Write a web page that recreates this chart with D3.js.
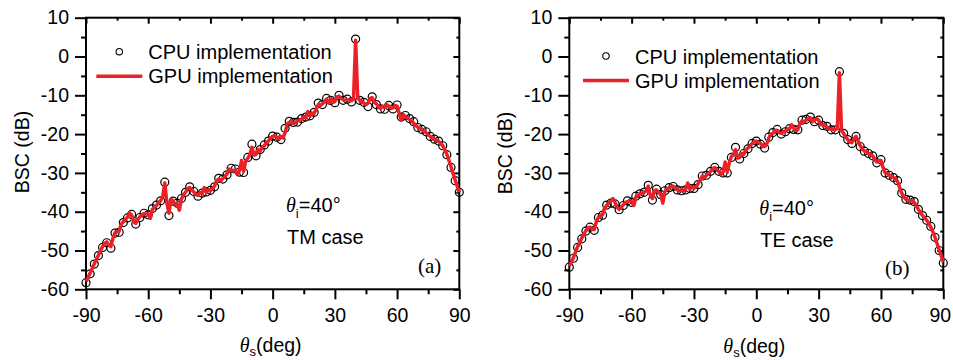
<!DOCTYPE html>
<html>
<head>
<meta charset="utf-8">
<script src="https://cdn.jsdelivr.net/npm/d3@7"></script>
<style>
  body { margin: 0; background: #fff; }
  svg { display: block; font-family: 'Liberation Sans', Arial, sans-serif; }
</style>
</head>
<body>
<div id="chart"></div>
<script>
// scattering angle grids (deg)
const cpuAngles = d3.range(-90, 91, 2);
const gpuAngles = d3.range(-90, 91, 1);

const xTicks = [-90, -60, -30, 0, 30, 60, 90];
const xMinorTicks = [-75, -45, -15, 15, 45, 75];
const yTicks = [10, 0, -10, -20, -30, -40, -50, -60];
const yMinorTicks = [5, -5, -15, -25, -35, -45, -55];

// (a) TM case, BSC in dB
const tmCpu = [
  -58.3, -56.0, -53.5, -51.3, -49.2, -48.0, -49.4, -45.5, -45.3, -42.8,
  -41.6, -40.7, -43.2, -41.5, -40.4, -40.8, -39.2, -38.3, -37.2, -32.4,
  -41.0, -37.3, -37.8, -36.6, -35.0, -33.6, -34.8, -36.0, -35.2, -34.9,
  -34.5, -33.6, -31.4, -31.6, -30.5, -28.8, -29.0, -29.8, -29.9, -26.0,
  -22.6, -25.6, -24.0, -22.8, -21.8, -20.5, -20.8, -21.4, -18.5, -16.7,
  -17.0, -16.9, -16.0, -15.6, -15.3, -14.4, -12.0, -12.4, -10.8, -11.3,
  -11.9, -10.0, -11.3, -11.0, -11.7, 4.5, -11.3, -11.8, -12.9, -10.4,
  -12.4, -13.5, -13.6, -12.6, -13.5, -12.5, -15.6, -15.2, -16.0, -16.8,
  -18.3, -18.8, -19.4, -20.6, -21.3, -21.8, -23.0, -25.3, -28.6, -32.0, -35.0
];
const tmGpu = [
  -58.0, -57.0, -55.8, -54.6, -53.4, -52.4, -51.2, -50.0, -49.0, -48.2,
  -47.8, -48.6, -49.0, -46.8, -45.4, -45.2, -45.0, -43.2, -42.6, -42.0,
  -41.4, -40.4, -40.8, -42.6, -43.0, -42.0, -41.3, -40.8, -40.5, -40.6,
  -40.6, -41.7, -39.4, -38.9, -38.4, -37.6, -37.2, -36.0, -32.6, -37.8,
  -40.4, -36.8, -37.2, -38.2, -38.0, -39.6, -36.8, -35.6, -35.0, -34.0,
  -33.8, -34.4, -34.9, -35.6, -35.8, -35.0, -35.2, -33.8, -35.0, -34.4,
  -34.6, -34.0, -33.4, -32.0, -31.6, -32.0, -31.4, -31.0, -30.2, -29.0,
  -29.2, -29.4, -29.4, -30.2, -29.4, -26.8, -29.6, -27.0, -26.2, -25.4,
  -23.4, -25.4, -25.2, -24.0, -24.4, -23.2, -23.0, -22.2, -21.8, -21.0,
  -20.6, -20.4, -20.8, -21.2, -20.6, -21.0, -19.6, -17.4, -17.0, -16.8,
  -17.2, -17.0, -16.6, -16.4, -16.2, -15.6, -15.8, -14.2, -15.4, -14.6,
  -14.6, -13.6, -12.4, -12.6, -12.2, -11.6, -11.0, -12.0, -10.8, -11.8,
  -11.6, -10.4, -10.2, -10.8, -11.2, -11.2, -11.4, -11.2, -11.4, -10.8,
  4.2, -10.4, -11.4, -11.6, -12.0, -12.4, -12.0, -10.8, -10.6, -11.8,
  -12.2, -13.0, -13.4, -12.8, -13.2, -12.4, -12.8, -13.4, -13.2, -12.6,
  -12.8, -14.6, -16.4, -15.0, -15.6, -15.8, -16.2, -16.6, -17.2, -17.8,
  -18.2, -18.6, -18.8, -19.2, -19.6, -20.2, -20.6, -21.0, -21.4, -21.6,
  -21.8, -22.4, -23.0, -24.0, -25.2, -26.8, -28.4, -30.2, -31.8, -33.4,
  -35.0
];

// (b) TE case, BSC in dB
const teCpu = [
  -54.3, -52.0, -49.2, -47.0, -45.0, -44.0, -44.8, -41.5, -40.9, -38.3,
  -37.8, -38.0, -39.5, -38.4, -37.2, -37.6, -36.0, -35.4, -35.0, -33.2,
  -37.0, -34.2, -35.6, -34.6, -33.8, -33.5, -34.4, -34.6, -34.4, -34.0,
  -34.0, -33.0, -30.8, -30.6, -29.6, -28.6, -29.6, -30.0, -30.0, -26.0,
  -23.4, -26.4, -25.0, -23.8, -22.4, -21.8, -22.6, -23.6, -20.8, -19.6,
  -18.8, -20.0, -19.4, -18.6, -18.8, -18.9, -16.4, -16.2, -15.6, -16.8,
  -16.4, -17.8, -18.0, -18.9, -18.9, -3.9, -19.8, -21.4, -22.4, -20.6,
  -23.2, -24.4, -25.0, -25.6, -27.4, -26.6, -30.0, -30.6, -31.2, -32.0,
  -35.2, -36.8, -37.0, -37.4, -39.4, -41.0, -42.2, -43.8, -46.6, -50.0, -53.2
];
const teGpu = [
  -54.0, -53.0, -51.8, -50.4, -49.0, -48.0, -46.8, -45.8, -44.8, -44.2,
  -44.0, -44.4, -44.6, -42.6, -41.4, -41.2, -40.8, -39.0, -38.4, -37.8,
  -37.2, -36.6, -37.6, -38.8, -39.4, -38.8, -38.2, -37.6, -37.4, -37.2,
  -37.4, -38.4, -36.2, -35.8, -35.4, -35.2, -35.0, -34.6, -33.4, -35.8,
  -36.6, -34.6, -34.4, -35.0, -35.6, -37.8, -34.8, -34.2, -33.8, -33.6,
  -33.4, -34.0, -34.4, -34.6, -34.4, -34.6, -34.2, -32.6, -34.2, -33.6,
  -34.0, -33.6, -32.8, -31.8, -30.8, -31.2, -30.6, -30.2, -29.6, -29.0,
  -28.6, -29.2, -29.6, -30.4, -29.8, -27.2, -29.8, -27.4, -25.8, -25.2,
  -24.0, -26.2, -26.0, -25.0, -25.2, -24.0, -23.6, -23.0, -22.4, -22.0,
  -21.8, -22.2, -22.4, -23.0, -23.2, -22.6, -21.0, -20.0, -19.8, -19.2,
  -19.0, -19.6, -19.8, -19.4, -19.2, -18.8, -18.6, -17.6, -18.4, -19.0,
  -18.8, -17.2, -16.6, -16.8, -16.4, -16.0, -15.8, -16.8, -16.4, -16.0,
  -16.4, -17.6, -17.6, -17.8, -18.2, -18.6, -18.8, -18.8, -18.8, -18.6,
  -4.2, -19.0, -19.8, -20.8, -21.4, -22.0, -22.2, -21.2, -20.6, -21.8,
  -23.0, -23.8, -24.4, -24.6, -25.0, -25.2, -25.6, -26.6, -27.2, -26.8,
  -26.8, -28.6, -30.0, -30.2, -30.6, -31.0, -31.2, -31.6, -32.2, -33.8,
  -35.2, -36.2, -36.8, -37.0, -37.2, -37.2, -37.6, -38.4, -39.4, -40.2,
  -41.0, -41.6, -42.2, -43.0, -44.0, -45.2, -46.6, -48.2, -49.8, -51.4,
  -53.0
];

const RED = '#ec2128';
const plotTop = 17.7, plotBottom = 289.3;
const plotHeight = plotBottom - plotTop;

const svg = d3.select('#chart').append('svg')
  .attr('width', 953)
  .attr('height', 360);

// plain hyphen labels, like the original figure
const hyphen = d => String(d);

function drawPanel(p) {
  const width = p.right - p.left;
  const height = plotHeight;
  const g = svg.append('g').attr('transform', `translate(${p.left},${plotTop})`);

  const x = d3.scaleLinear().domain([-90, 90]).range([0, width]);
  const y = d3.scaleLinear().domain([-60, 10]).range([height, 0]);

  // bottom axis
  const xAxis = g.append('g').attr('transform', `translate(0,${height})`)
    .call(d3.axisBottom(x).tickValues(xTicks).tickFormat(hyphen).tickSize(10).tickPadding(9).tickSizeOuter(0));
  g.append('g').attr('transform', `translate(0,${height})`)
    .call(d3.axisBottom(x).tickValues(xMinorTicks).tickSize(5).tickFormat('').tickSizeOuter(0));
  // top mirror ticks
  g.append('g').call(d3.axisTop(x).tickValues(xTicks).tickSize(-6).tickFormat('').tickSizeOuter(0));
  g.append('g').call(d3.axisTop(x).tickValues(xMinorTicks).tickSize(-3).tickFormat('').tickSizeOuter(0));

  // left axis
  g.append('g')
    .call(d3.axisLeft(y).tickValues(yTicks).tickFormat(hyphen).tickSize(11).tickPadding(6).tickSizeOuter(0));
  g.append('g')
    .call(d3.axisLeft(y).tickValues(yMinorTicks).tickSize(5).tickFormat('').tickSizeOuter(0));
  // right mirror ticks
  g.append('g').attr('transform', `translate(${width},0)`)
    .call(d3.axisRight(y).tickValues(yTicks).tickSize(-6).tickFormat('').tickSizeOuter(0));
  g.append('g').attr('transform', `translate(${width},0)`)
    .call(d3.axisRight(y).tickValues(yMinorTicks).tickSize(-3).tickFormat('').tickSizeOuter(0));

  g.selectAll('.domain').remove();
  g.selectAll('.tick line').attr('stroke', '#000').attr('stroke-width', 2);
  g.selectAll('.tick text')
    .attr('fill', '#000')
    .style('font-size', '19.5px')
    .style('font-family', "'Liberation Sans', Arial, sans-serif");
  // last label sits against the page edge
  xAxis.selectAll('.tick text').filter(d => d === 90).attr('dx', p.lastDx);

  g.append('rect')
    .attr('width', width).attr('height', height)
    .attr('fill', 'none').attr('stroke', '#000').attr('stroke-width', 2);

  // CPU circles
  g.append('g').selectAll('circle')
    .data(p.cpu)
    .enter()
    .append('circle')
    .attr('cx', (d, i) => x(cpuAngles[i]))
    .attr('cy', d => y(d))
    .attr('r', 4)
    .attr('fill', 'none')
    .attr('stroke', '#000')
    .attr('stroke-width', 1.2);

  // GPU line
  const line = d3.line()
    .x((d, i) => x(gpuAngles[i]))
    .y(d => y(d));
  g.append('path')
    .datum(p.gpu)
    .attr('d', line)
    .attr('fill', 'none')
    .attr('stroke', RED)
    .attr('stroke-width', 3.5)
    .attr('stroke-linejoin', 'round');

  // legend
  const lg = g.append('g').attr('transform', `translate(${p.legend[0]},${p.legend[1]})`);
  lg.append('circle').attr('cx', 0).attr('cy', 0).attr('r', 3.2)
    .attr('fill', 'none').attr('stroke', '#000').attr('stroke-width', 1.1);
  lg.append('text').attr('x', 29).attr('y', 7.5).style('font-size', '20px').text('CPU implementation');
  lg.append('line').attr('x1', -23).attr('x2', 23).attr('y1', 24.5).attr('y2', 24.5)
    .attr('stroke', RED).attr('stroke-width', 3.5);
  lg.append('text').attr('x', 29).attr('y', 31.5).style('font-size', '20px').text('GPU implementation');

  // annotation
  const an = g.append('text').attr('x', p.note[0]).attr('y', p.note[1]).style('font-size', '20px');
  an.append('tspan').style('font-family', "'Liberation Serif', serif").style('font-style', 'italic').text('θ');
  an.append('tspan').style('font-size', '13px').attr('dy', 6).text('i');
  an.append('tspan').attr('dy', -6).text('=40°');
  g.append('text').attr('x', p.note[0] + 1).attr('y', p.note[1] + 32.3)
    .style('font-size', '20px').text(p.caseLabel);
  g.append('text').attr('x', p.tag[0]).attr('y', p.tag[1])
    .style('font-family', "'Liberation Serif', 'Times New Roman', serif")
    .style('font-size', '21px').text(p.tagLabel);

  // axis titles
  g.append('text')
    .attr('transform', `translate(${p.yTitleX - p.left},${p.yTitleY - plotTop}) rotate(-90)`)
    .attr('text-anchor', 'middle')
    .style('font-size', '19.5px')
    .text('BSC (dB)');
  const xt = g.append('text')
    .attr('x', width / 2 - 2).attr('y', p.xTitleY - plotTop)
    .attr('text-anchor', 'middle')
    .style('font-size', '19.5px');
  xt.append('tspan').style('font-family', "'Liberation Serif', serif").style('font-style', 'italic').style('font-size', '20px').text('θ');
  xt.append('tspan').style('font-size', '13px').attr('dy', 4).text('s');
  xt.append('tspan').attr('dy', -4).text('(deg)');
}

drawPanel({
  left: 86, right: 459.3, cpu: tmCpu, gpu: tmGpu,
  legend: [33.3, 34], note: [200, 194.3], caseLabel: 'TM case',
  tag: [332, 255.3], tagLabel: '(a)',
  yTitleX: 29, yTitleY: 152, xTitleY: 352, lastDx: 0
});
drawPanel({
  left: 569.3, right: 943.3, cpu: teCpu, gpu: teGpu,
  legend: [36.7, 38.3], note: [190, 197.3], caseLabel: 'TE case',
  tag: [315.7, 257.3], tagLabel: '(b)',
  yTitleX: 512, yTitleY: 153, xTitleY: 353, lastDx: -3.5
});
</script>
</body>
</html>
